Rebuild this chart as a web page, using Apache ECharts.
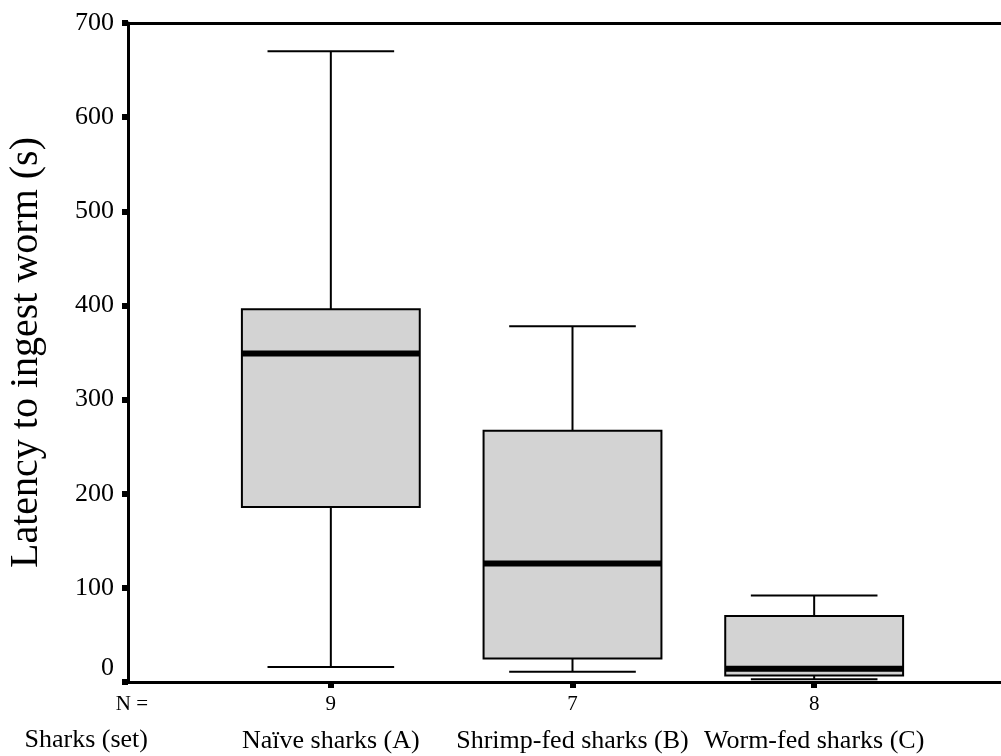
<!DOCTYPE html>
<html>
<head>
<meta charset="utf-8">
<script src="https://cdn.jsdelivr.net/npm/echarts@6/dist/echarts.min.js"></script>
<style>
  html, body { margin: 0; padding: 0; background: #fff; }
  #chart { width: 1001px; height: 756px; }
</style>
</head>
<body>
<div id="chart"></div>
<script>
  // data
  var categories = ['Naïve sharks (A)', 'Shrimp-fed sharks (B)', 'Worm-fed sharks (C)'];
  var counts = [9, 7, 8];
  var mins = [16, 11, 3];
  var q1s = [186, 25, 7];
  var medians = [349, 126, 14];
  var q3s = [396, 267, 70];
  var maxs = [670, 378, 92];
  var yTicks = [0, 100, 200, 300, 400, 500, 600, 700];

  var serif = "'Liberation Serif', 'Times New Roman', serif";

  var boxData = categories.map(function (c, i) {
    return [i, mins[i], q1s[i], medians[i], q3s[i], maxs[i]];
  });

  function renderBox(params, api) {
    var i = api.value(0);
    var band = api.size([1, 0])[0];
    var half = band * 0.368;
    var capHalf = band * 0.262;
    var pMin = api.coord([i, api.value(1)]);
    var pQ1 = api.coord([i, api.value(2)]);
    var pMed = api.coord([i, api.value(3)]);
    var pQ3 = api.coord([i, api.value(4)]);
    var pMax = api.coord([i, api.value(5)]);
    var x = pMed[0];
    var line = { stroke: '#000', lineWidth: 2 };
    return {
      type: 'group',
      children: [
        { type: 'line', shape: { x1: x, y1: pMax[1], x2: x, y2: pQ3[1] }, style: line },
        { type: 'line', shape: { x1: x, y1: pQ1[1], x2: x, y2: pMin[1] }, style: line },
        { type: 'line', shape: { x1: x - capHalf, y1: pMax[1], x2: x + capHalf, y2: pMax[1] }, style: line },
        { type: 'line', shape: { x1: x - capHalf, y1: pMin[1], x2: x + capHalf, y2: pMin[1] }, style: line },
        {
          type: 'rect',
          shape: { x: x - half, y: pQ3[1], width: half * 2, height: pQ1[1] - pQ3[1] },
          style: { fill: '#d3d3d3', stroke: '#000', lineWidth: 2 }
        },
        { type: 'line', shape: { x1: x - half, y1: pMed[1], x2: x + half, y2: pMed[1] }, style: { stroke: '#000', lineWidth: 6 } }
      ]
    };
  }

  var chart = echarts.init(document.getElementById('chart'));
  chart.setOption({
    backgroundColor: '#ffffff',
    animation: false,
    textStyle: { fontFamily: serif },
    grid: [
      { left: 128, right: 0, top: 23, bottom: 74, outerBoundsMode: 'none', containLabel: false },
      { left: 210, right: 66, top: 23, bottom: 74, outerBoundsMode: 'none', containLabel: false }
    ],
    xAxis: [
      {
        type: 'value', gridIndex: 0, position: 'bottom', min: 0, max: 1,
        axisLine: { show: true, lineStyle: { color: '#000', width: 3 } },
        axisTick: { show: false }, axisLabel: { show: false }, splitLine: { show: false }
      },
      {
        type: 'value', gridIndex: 0, position: 'top', min: 0, max: 1,
        axisLine: { show: true, lineStyle: { color: '#000', width: 3 } },
        axisTick: { show: false }, axisLabel: { show: false }, splitLine: { show: false }
      },
      {
        type: 'category', gridIndex: 1, data: categories,
        axisLine: { show: false },
        axisTick: { show: true, alignWithLabel: true, length: 6, lineStyle: { color: '#000', width: 6 } },
        axisLabel: {
          margin: 9,
          formatter: function (value, idx) {
            return '{n|' + counts[idx] + '}\n{c|' + value + '}';
          },
          rich: {
            n: { fontFamily: serif, fontSize: 21, lineHeight: 26, color: '#000' },
            c: { fontFamily: serif, fontSize: 26, lineHeight: 48, color: '#000' }
          }
        },
        splitLine: { show: false }
      }
    ],
    yAxis: [
      {
        type: 'value', gridIndex: 0, min: 0, max: 700, interval: 100,
        name: 'Latency to ingest worm (s)',
        nameLocation: 'middle', nameRotate: 90, nameGap: 82,
        nameTextStyle: { fontFamily: serif, fontSize: 40, color: '#000' },
        axisLine: { show: true, lineStyle: { color: '#000', width: 3 } },
        axisTick: { show: true, length: 6, lineStyle: { color: '#000', width: 6 } },
        axisLabel: {
          margin: 14, color: '#000', fontFamily: serif, fontSize: 26,
          formatter: function (v) {
            return v === yTicks[0] ? '{z|' + v + '}' : String(v);
          },
          rich: {
            z: { fontFamily: serif, fontSize: 26, color: '#000', padding: [0, 0, 28, 0] }
          }
        },
        splitLine: { show: false }
      },
      {
        type: 'value', gridIndex: 1, min: 0, max: 700, interval: 100, show: false
      }
    ],
    graphic: [
      {
        type: 'text', right: 1001 - 148, top: 694,
        style: { text: 'N =', fontFamily: serif, fontSize: 21, fill: '#000' }
      },
      {
        type: 'text', right: 1001 - 148, top: 727,
        style: { text: 'Sharks (set)', fontFamily: serif, fontSize: 26, fill: '#000' }
      }
    ],
    series: [
      {
        type: 'custom',
        xAxisIndex: 2,
        yAxisIndex: 1,
        renderItem: renderBox,
        encode: { x: 0, y: [1, 2, 3, 4, 5] },
        data: boxData
      }
    ]
  });
</script>
</body>
</html>
